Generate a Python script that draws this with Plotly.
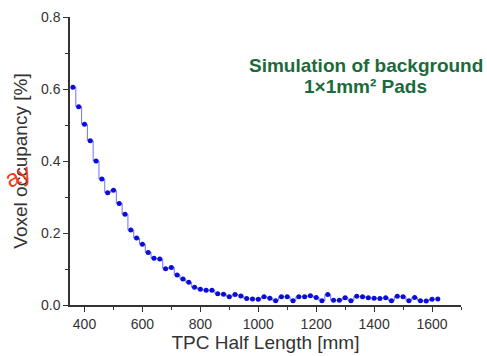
import plotly.graph_objects as go

length_mm = list(range(360, 1621, 20))
occupancy = [
    0.605, 0.551, 0.502, 0.456, 0.400, 0.350, 0.312, 0.319, 0.282, 0.252,
    0.208, 0.186, 0.169, 0.146, 0.130, 0.128, 0.101, 0.104, 0.083, 0.072,
    0.063, 0.049, 0.044,
    0.041, 0.041, 0.031, 0.030, 0.023, 0.029, 0.025, 0.018, 0.017, 0.016,
    0.023, 0.019, 0.012, 0.023, 0.023, 0.012, 0.023, 0.023, 0.026, 0.021,
    0.012, 0.029, 0.013, 0.013, 0.020, 0.012, 0.024, 0.023, 0.020, 0.019,
    0.018, 0.020, 0.012, 0.024, 0.023, 0.012, 0.021, 0.012, 0.011, 0.016,
    0.017,
]

font_fam = "Liberation Sans, Arial, sans-serif"

fig = go.Figure()
fig.add_trace(go.Scatter(
    x=length_mm, y=occupancy, mode="lines+markers",
    line=dict(shape="hvh", color="#6f6fff", width=1),
    marker=dict(color="#0c0cd8", size=5),
    showlegend=False,
))

fig.update_layout(
    width=487, height=356,
    margin=dict(l=70, r=26, t=17, b=51),
    paper_bgcolor="white", plot_bgcolor="white",
    font=dict(family=font_fam, color="#333333", size=14),
    xaxis=dict(
        range=[350, 1700], dtick=200, tick0=400, automargin=False,
        showline=True, linecolor="#333333", linewidth=1.5,
        ticks="outside", ticklen=5, tickcolor="#333333",
        minor=dict(dtick=100, ticks="outside", ticklen=3, tickcolor="#333333"),
        showgrid=False, zeroline=False,
        title=dict(text="TPC Half Length [mm]", font=dict(size=19), standoff=3),
    ),
    yaxis=dict(
        range=[0, 0.8], dtick=0.2, tickformat=".1f", automargin=False,
        showline=True, linecolor="#333333", linewidth=1.5,
        ticks="outside", ticklen=5, tickcolor="#333333",
        minor=dict(dtick=0.1, ticks="outside", ticklen=3, tickcolor="#333333"),
        showgrid=False, zeroline=False,
        title=dict(text="Voxel occupancy [%]", font=dict(size=19), standoff=8),
    ),
    annotations=[
        dict(text="<b>Simulation of background</b>",
             xref="paper", yref="paper", x=0.757, y=0.830,
             xanchor="center", yanchor="middle",
             showarrow=False, font=dict(color="#1b6b3a", size=19, family=font_fam)),
        dict(text="<b>1×1mm² Pads</b>",
             xref="paper", yref="paper", x=0.757, y=0.760,
             xanchor="center", yanchor="middle",
             showarrow=False, font=dict(color="#1b6b3a", size=19, family=font_fam)),
        dict(text="ay", xref="paper", yref="paper", x=-0.135, y=0.45,
             xanchor="center", yanchor="middle", textangle=-25,
             showarrow=False, font=dict(color="#f03c1e", size=24, family=font_fam)),
    ],
)

fig.write_html("out.html")
